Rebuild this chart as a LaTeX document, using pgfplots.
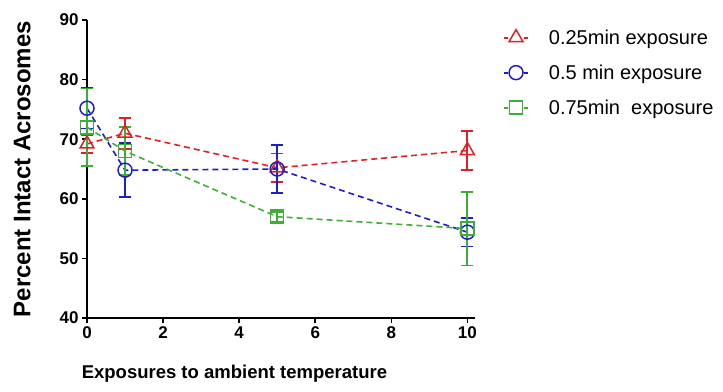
\documentclass[border=0pt]{standalone}
\usepackage{pgfplots}
\pgfplotsset{compat=1.18}
\usepackage{fontspec}
\setmainfont{Liberation Sans}
\definecolor{cred}{RGB}{228,30,38}
\definecolor{cblue}{RGB}{30,30,205}
\definecolor{cgreen}{RGB}{60,175,55}
\begin{document}
\begin{tikzpicture}
\useasboundingbox (0,0) rectangle (723pt,391pt);
\begin{axis}[
  at={(87pt,73pt)}, anchor=origin,
  scale only axis, width=388pt, height=298pt,
  xmin=0, xmax=10.2, ymin=40, ymax=90,
  axis lines=left, axis line style={line width=1.6pt,-},
  xtick={0,2,...,10}, ytick={40,50,...,90},
  tick style={black,line width=1.6pt}, tick align=outside, major tick length=5pt,
  /pgf/number format/assume math mode=true,
  ticklabel style={font=\fontsize{17}{19}\selectfont\bfseries},
  xlabel={Exposures to ambient temperature},
  ylabel={Percent Intact Acrosomes},
  xlabel style={font=\fontsize{18.5}{20}\selectfont\bfseries, at={(axis description cs:0.38,0)}, anchor=north, yshift=-44pt},
  ylabel style={font=\fontsize{24}{26}\selectfont\bfseries, yshift=22pt},
  clip=false,
  legend style={at={(1.072,0.975)}, anchor=north west, draw=none, fill=none,
    font=\fontsize{20}{22}\selectfont, row sep=15pt, inner sep=0pt,
    /tikz/every odd column/.append style={column sep=18pt}},
  legend cell align=left,
  legend image code/.code={
    \draw[#1, solid, line width=1.8pt] (0pt,0pt) -- (4pt,0pt);
    \draw[#1, solid, line width=1.8pt] (20pt,0pt) -- (24pt,0pt);
    \path[#1, solid] plot[only marks] coordinates {(12pt,0pt)};
  },
  error bars/y dir=both, error bars/y explicit,
]
\addplot[cred, line width=1.6pt, dash pattern=on 6pt off 4pt, mark=triangle, mark size=8pt, mark options={solid, line width=1.5pt},
  error bars/error bar style={cred, solid, line width=1.8pt},
  error bars/error mark options={cred, solid, rotate=90, mark size=6pt, line width=1.8pt}]
  coordinates {(0,69.2) +- (0,1.5) (1,71) +- (0,2.6) (5,65.2) +- (0,2.4) (10,68.1) +- (0,3.3)};
\addlegendentry{0.25min exposure}
\addplot[cblue, line width=1.6pt, dash pattern=on 6pt off 4pt, mark=o, mark size=7pt, mark options={solid, line width=1.5pt},
  error bars/error bar style={cblue, solid, line width=1.8pt},
  error bars/error mark options={cblue, solid, rotate=90, mark size=6pt, line width=1.8pt}]
  coordinates {(0,75.2) +- (0,3.4) (1,64.8) +- (0,4.5) (5,65) +- (0,4) (10,54.4) +- (0,2.4)};
\addlegendentry{0.5 min exposure}
\addplot[cgreen, line width=1.6pt, dash pattern=on 6pt off 4pt, mark=square, mark size=6.5pt, mark options={solid, line width=1.5pt},
  error bars/error bar style={cgreen, solid, line width=1.8pt},
  error bars/error mark options={cgreen, solid, rotate=90, mark size=6pt, line width=1.8pt}]
  coordinates {(0,72) +- (0,6.5) (1,68) +- (0,4) (5,57) +- (0,0.8) (10,55) +- (0,6.2)};
\addlegendentry{0.75min\ \ exposure}
\end{axis}
\end{tikzpicture}
\end{document}
